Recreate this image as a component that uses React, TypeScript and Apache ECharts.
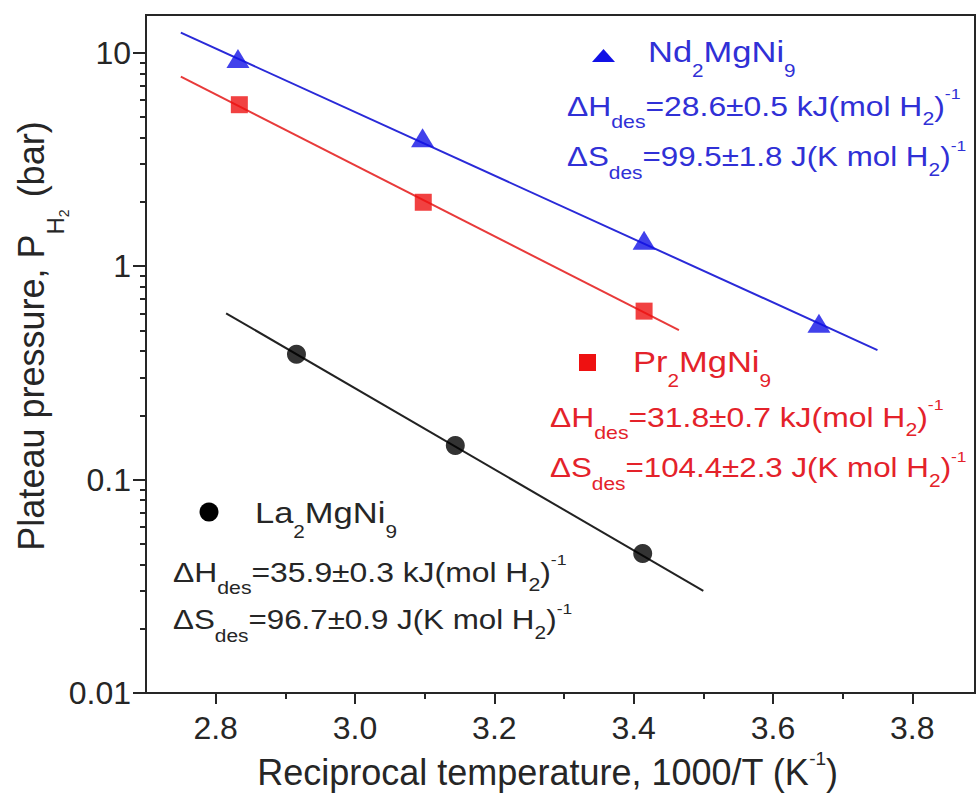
import React, { useEffect, useRef } from 'react';
import * as echarts from 'echarts';

// Nd2MgNi9 (triangles)
const ndX = [2.832, 3.097, 3.415, 3.666];
const ndP = [9.37, 3.99, 1.32, 0.539];
const ndFitX = [2.75, 3.75];
const ndFitP = [12.4, 0.404];
// Pr2MgNi9 (squares)
const prX = [2.834, 3.098, 3.415];
const prP = [5.7, 1.99, 0.615];
const prFitX = [2.75, 3.465];
const prFitP = [7.71, 0.501];
// La2MgNi9 (circles)
const laX = [2.916, 3.144, 3.413];
const laP = [0.386, 0.1445, 0.045];
const laFitX = [2.815, 3.5];
const laFitP = [0.601, 0.0301];

const xMajor = [2.8, 3.0, 3.2, 3.4, 3.6, 3.8];
const xMinor = [2.9, 3.1, 3.3, 3.5, 3.7];
const yMajor = [0.01, 0.1, 1, 10];
const yMinor = [0.02, 0.03, 0.04, 0.05, 0.06, 0.07, 0.08, 0.09, 0.2, 0.3, 0.4, 0.5, 0.6, 0.7, 0.8, 0.9, 2, 3, 4, 5, 6, 7, 8, 9];

const FONT = '"Liberation Sans", Arial, Helvetica, sans-serif';
const BLUE = '#1111e6';
const BLUE_TXT = '#3030d6';
const RED = '#ee1111';
const RED_TXT = '#e4222a';
const INK = '#262626';

const zip = (a: number[], b: number[]) => a.map((v, i) => [v, b[i]]);

const annRich = (F: number) => ({
  m: { fontSize: F, lineHeight: 64, fontFamily: FONT },
  d: { fontSize: Math.round(F * 0.66), lineHeight: Math.round(F * 0.66), fontFamily: FONT, padding: [32, 0, 0, 0] },
  s: { fontSize: Math.round(F * 0.68), lineHeight: Math.round(F * 0.68), fontFamily: FONT, padding: [26, 0, 0, 0] },
  u: { fontSize: Math.round(F * 0.55), lineHeight: Math.round(F * 0.55), fontFamily: FONT, padding: [0, 0, 24, 0] },
});
const nameRich = (F: number) => ({
  m: { fontSize: F, lineHeight: 70, fontFamily: FONT },
  s: { fontSize: Math.round(F * 0.6), lineHeight: Math.round(F * 0.6), fontFamily: FONT, padding: [38, 0, 0, 0] },
});

const ann = (x: number, y: number, text: string, color: string, F: number, sx: number) => ({
  type: 'text', x, y, scaleX: sx, silent: true,
  style: { text, rich: annRich(F), fill: color, fontFamily: FONT, fontSize: F, align: 'left', verticalAlign: 'middle' },
});
const nm = (x: number, y: number, text: string, color: string, F: number, sx: number) => ({
  type: 'text', x, y, scaleX: sx, silent: true,
  style: { text, rich: nameRich(F), fill: color, fontFamily: FONT, fontSize: F, align: 'left', verticalAlign: 'middle' },
});

export default function App() {
  const ref = useRef<HTMLDivElement>(null);
  useEffect(() => {
    if (!ref.current) return;
    const chart = echarts.init(ref.current, null, { renderer: 'svg' });
    const axisLineStyle = { color: INK, width: 2 };
    const option: any = {
      animation: false,
      backgroundColor: '#ffffff',
      grid: { left: 146, right: 2, top: 15, bottom: 111, show: true, borderColor: INK, borderWidth: 2 },
      xAxis: [
        {
          type: 'value', min: 2.7, max: 3.89, position: 'bottom',
          axisLine: { show: true, lineStyle: axisLineStyle },
          axisTick: { show: true, customValues: xMajor, length: 11, inside: false, lineStyle: { color: INK, width: 2 } },
          axisLabel: { customValues: xMajor, formatter: (v: number) => v.toFixed(1), fontSize: 32, color: INK, margin: 19, fontFamily: FONT },
          splitLine: { show: false },
          name: '{m|Reciprocal temperature, 1000/T (K}{u|-1}{m|)}',
          nameLocation: 'middle', nameGap: 56,
          nameTextStyle: {
            color: INK, fontFamily: FONT, fontSize: 36, padding: [0, 26, 0, 0],
            rich: {
              m: { fontSize: 36, lineHeight: 46, fontFamily: FONT, color: INK },
              u: { fontSize: 19, lineHeight: 19, fontFamily: FONT, color: INK, padding: [0, 0, 28, 0] },
            },
          },
        },
        {
          type: 'value', min: 2.7, max: 3.89, position: 'bottom',
          axisLine: { show: false },
          axisTick: { show: true, customValues: xMinor, length: 6, inside: false, lineStyle: { color: INK, width: 2 } },
          axisLabel: { show: false },
          splitLine: { show: false },
        },
      ],
      yAxis: [
        {
          type: 'log', logBase: 10, min: 0.01, max: 15, position: 'left',
          axisLine: { show: true, lineStyle: axisLineStyle },
          axisTick: { show: true, customValues: yMajor, length: 13, inside: false, lineStyle: { color: INK, width: 2 } },
          axisLabel: { customValues: yMajor, formatter: (v: number) => String(v), fontSize: 32, color: INK, margin: 15, fontFamily: FONT },
          splitLine: { show: false },
          minorTick: { show: false },
        },
        {
          type: 'log', logBase: 10, min: 0.01, max: 15, position: 'left',
          axisLine: { show: false },
          axisTick: { show: true, customValues: yMinor, length: 6, inside: false, lineStyle: { color: INK, width: 2 } },
          axisLabel: { show: false },
          splitLine: { show: false },
        },
      ],
      series: [
        { name: 'Nd fit', type: 'line', data: zip(ndFitX, ndFitP), showSymbol: false, lineStyle: { color: '#2a2ad8', width: 2 }, z: 2 },
        { name: 'Pr fit', type: 'line', data: zip(prFitX, prFitP), showSymbol: false, lineStyle: { color: '#e83a3a', width: 2 }, z: 2 },
        { name: 'La fit', type: 'line', data: zip(laFitX, laFitP), showSymbol: false, lineStyle: { color: '#222', width: 2 }, z: 2 },
        { name: 'Nd2MgNi9', type: 'scatter', data: zip(ndX, ndP), symbol: 'triangle', symbolSize: [23, 19], itemStyle: { color: BLUE }, z: 3 },
        { name: 'Pr2MgNi9', type: 'scatter', data: zip(prX, prP), symbol: 'rect', symbolSize: 17, itemStyle: { color: RED }, z: 3 },
        { name: 'La2MgNi9', type: 'scatter', data: zip(laX, laP), symbol: 'circle', symbolSize: 19, itemStyle: { color: '#000' }, z: 3 },
      ],
      graphic: [
        {
          type: 'text', x: 31, y: 336, rotation: Math.PI / 2, silent: true,
          style: {
            text: '{m|Plateau pressure, P}{hh|H}{tt|2}{m| (bar)}',
            fill: INK, fontFamily: FONT, fontSize: 36, align: 'center', verticalAlign: 'middle',
            rich: {
              m: { fontSize: 36, lineHeight: 90, fontFamily: FONT },
              hh: { fontSize: 24, lineHeight: 24, fontFamily: FONT, padding: [48, 0, 0, 0] },
              tt: { fontSize: 14, lineHeight: 14, fontFamily: FONT, padding: [66, 2, 0, 0] },
            },
          },
        },
        // Nd legend block
        { type: 'polygon', silent: true, shape: { points: [[592, 62], [615, 62], [603.5, 49]] }, style: { fill: BLUE } },
        nm(648, 52, '{m|Nd}{s|2}{m|MgNi}{s|9}', BLUE_TXT, 30, 1.15),
        ann(567, 106, '{m|ΔH}{d|des}{m|=28.6±0.5 kJ(mol H}{s|2}{m|)}{u|-1}', BLUE_TXT, 27, 1.18),
        ann(567, 157, '{m|ΔS}{d|des}{m|=99.5±1.8 J(K mol H}{s|2}{m|)}{u|-1}', BLUE_TXT, 27, 1.16),
        // Pr legend block
        { type: 'rect', silent: true, shape: { x: 579, y: 354, width: 17, height: 17 }, style: { fill: RED } },
        nm(633, 362, '{m|Pr}{s|2}{m|MgNi}{s|9}', RED_TXT, 30, 1.15),
        ann(550, 417, '{m|ΔH}{d|des}{m|=31.8±0.7 kJ(mol H}{s|2}{m|)}{u|-1}', RED_TXT, 27, 1.18),
        ann(550, 468, '{m|ΔS}{d|des}{m|=104.4±2.3 J(K mol H}{s|2}{m|)}{u|-1}', RED_TXT, 27, 1.16),
        // La legend block
        { type: 'circle', silent: true, shape: { cx: 209, cy: 512, r: 9.5 }, style: { fill: '#000' } },
        nm(255, 513, '{m|La}{s|2}{m|MgNi}{s|9}', INK, 30, 1.15),
        ann(173, 572, '{m|ΔH}{d|des}{m|=35.9±0.3 kJ(mol H}{s|2}{m|)}{u|-1}', INK, 27, 1.18),
        ann(173, 620, '{m|ΔS}{d|des}{m|=96.7±0.9 J(K mol H}{s|2}{m|)}{u|-1}', INK, 27, 1.16),
      ],
    };
    chart.setOption(option);
    return () => chart.dispose();
  }, []);
  return <div ref={ref} style={{ position: 'fixed', left: 0, top: 0, width: 977, height: 804, background: '#fff' }} />;
}
